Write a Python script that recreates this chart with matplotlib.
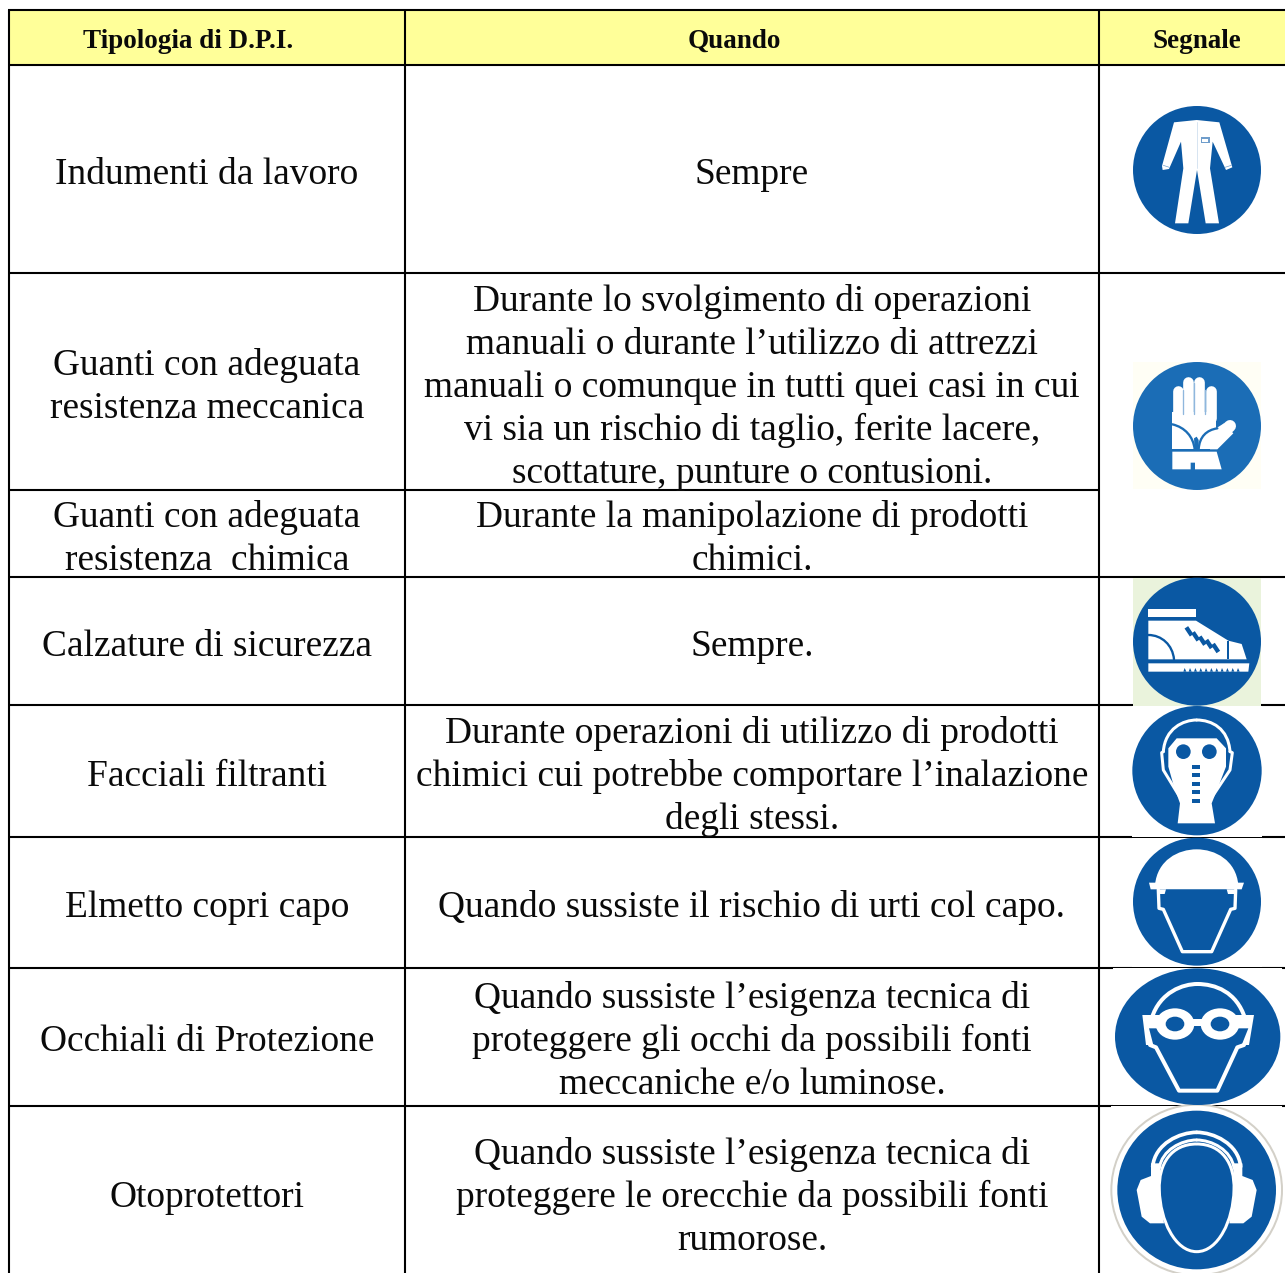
import matplotlib
matplotlib.use("Agg")
import matplotlib.pyplot as plt
from matplotlib.patches import Rectangle, Ellipse, Polygon, PathPatch
from matplotlib.path import Path

# ---------- table content ----------
headers = ["Tipologia di D.P.I.", "Quando", "Segnale"]
header_x = [188.5, 734, 1197]
tipologia = [
    ["Indumenti da lavoro"],
    ["Guanti con adeguata", "resistenza meccanica"],
    ["Guanti con adeguata", "resistenza  chimica"],
    ["Calzature di sicurezza"],
    ["Facciali filtranti"],
    ["Elmetto copri capo"],
    ["Occhiali di Protezione"],
    ["Otoprotettori"],
]
tipologia_y = [171, 362, 514, 643, 773, 904, 1038, 1194]
quando = [
    ["Sempre"],
    ["Durante lo svolgimento di operazioni", "manuali o durante l\u2019utilizzo di attrezzi",
     "manuali o comunque in tutti quei casi in cui", "vi sia un rischio di taglio, ferite lacere,",
     "scottature, punture o contusioni."],
    ["Durante la manipolazione di prodotti", "chimici."],
    ["Sempre."],
    ["Durante operazioni di utilizzo di prodotti", "chimici cui potrebbe comportare l\u2019inalazione",
     "degli stessi."],
    ["Quando sussiste il rischio di urti col capo."],
    ["Quando sussiste l\u2019esigenza tecnica di", "proteggere gli occhi da possibili fonti",
     "meccaniche e/o luminose."],
    ["Quando sussiste l\u2019esigenza tecnica di", "proteggere le orecchie da possibili fonti",
     "rumorose."],
]
quando_y = [171, 298, 514, 643, 730, 904, 995, 1151]

col_x = [9, 405, 1099, 1285]
row_y = [10, 65, 273, 490, 577, 705, 837, 968, 1106, 1273]
full_rows = [10, 65, 273, 577, 705, 837, 968, 1106]

YELLOW = "#FFFF99"
BLUE = "#0A58A3"
BLUE2 = "#1B6DB6"
W = "white"
FONT = "Liberation Serif"
LINE = 43
BASE = 12.8

fig = plt.figure(figsize=(12.85, 12.73), dpi=100)
ax = fig.add_axes([0, 0, 1, 1])
ax.set_xlim(0, 1285)
ax.set_ylim(1273, 0)
ax.axis("off")

# ---------- table ----------
ax.add_patch(Rectangle((col_x[0], row_y[0]), col_x[-1] - col_x[0], row_y[1] - row_y[0], fc=YELLOW, ec="none", zorder=1))
for y in full_rows:
    ax.plot([col_x[0] - 1, col_x[-1]], [y, y], color="black", lw=1.5, solid_capstyle="butt", zorder=2)
ax.plot([col_x[0], col_x[2]], [490, 490], color="black", lw=1.5, solid_capstyle="butt", zorder=2)
for x in col_x[:3]:
    ax.plot([x, x], [row_y[0], row_y[-1]], color="black", lw=1.5, solid_capstyle="butt", zorder=2)

for h, x in zip(headers, header_x):
    ax.text(x, 47.6, h, family=FONT, weight="bold", size=19.5, ha="center", va="baseline", color="#0A0A0A", zorder=5)
for lines, y0 in zip(tipologia, tipologia_y):
    for i, s in enumerate(lines):
        ax.text(207, y0 + BASE + i * LINE, s, family=FONT, size=26.9, ha="center", va="baseline", color="#0A0A0A", zorder=5)
for lines, y0 in zip(quando, quando_y):
    for i, s in enumerate(lines):
        ax.text(752, y0 + BASE + i * LINE, s, family=FONT, size=26.9, ha="center", va="baseline", color="#0A0A0A", zorder=5)


# ---------- icons: shapes are given in 3x crop coordinates ----------
class Z:
    def __init__(self, ox, oy):
        self.ox, self.oy = ox, oy

    def p(self, pts):
        return [(self.ox + a / 3, self.oy + b / 3) for a, b in pts]

    def poly(self, pts, fc=W, z=7):
        ax.add_patch(Polygon(self.p(pts), closed=True, fc=fc, ec="none", zorder=z))

    def rect(self, x0, y0, x1, y1, fc=W, z=7):
        self.poly([(x0, y0), (x1, y0), (x1, y1), (x0, y1)], fc, z)

    def line(self, pts, w=8, c=W, z=7, cap="round"):
        q = self.p(pts)
        ax.plot([a for a, _ in q], [b for _, b in q], color=c, lw=w * 0.24, solid_capstyle=cap,
                solid_joinstyle="round", zorder=z)

    def curve(self, pts, w=8, c=W, z=7):
        q = self.p(pts)
        codes = [Path.MOVETO] + [Path.CURVE4] * (len(q) - 1)
        ax.add_patch(PathPatch(Path(q, codes), fc="none", ec=c, lw=w * 0.24, capstyle="round", zorder=z))

    def filled(self, pts, fc=W, z=7, ec="none", w=0):
        q = self.p(pts)
        codes = [Path.MOVETO] + [Path.CURVE4] * (len(q) - 1)
        ax.add_patch(PathPatch(Path(q, codes), fc=fc, ec=ec, lw=w * 0.24, zorder=z))

    def disc(self, x, y, rx, ry=None, fc=BLUE, ec="none", w=0, z=6):
        ry = rx if ry is None else ry
        cx, cy = self.ox + x / 3, self.oy + y / 3
        ax.add_patch(Ellipse((cx, cy), 2 * rx / 3, 2 * ry / 3, fc=fc, ec=ec, lw=w * 0.24, zorder=z))


# coverall
z = Z(1100, 90)
z.disc(291, 240, 192)
z.poly([(222, 97), (290, 90), (358, 97), (397, 232), (378, 240), (338, 155), (330, 235), (357, 400), (317, 400),
        (291, 240), (265, 400), (225, 400), (250, 235), (243, 155), (207, 237), (188, 240), (186, 228)])
z.rect(303, 142, 329, 160, fc="#6F9DCB", z=8)
z.rect(307, 146, 325, 156, z=9)
z.line([(291, 95), (291, 235)], w=2, c="#C4D7EA", z=8)
z.line([(190, 226), (208, 232)], w=2, c="#6F9DCB", z=8)
z.line([(375, 232), (394, 226)], w=2, c="#6F9DCB", z=8)

# glove
z.rect(100, 816, 482, 1198, fc="#FFFEF5", z=3)
z.disc(291, 1008, 192, fc=BLUE2)
for fx, ftop in zip([233, 265, 298, 332], [904, 876, 876, 904]):
    z.line([(fx, ftop), (fx, 985)], w=32)
z.rect(217, 965, 348, 1078)
z.poly([(217, 1085), (350, 1085), (365, 1138), (285, 1138), (285, 1118), (272, 1118), (272, 1138), (217, 1138)])
z.line([(345, 1050), (390, 1008)], w=36)
z.poly([(340, 1020), (372, 1000), (400, 1030), (352, 1078), (330, 1078)])
z.curve([(217, 1003), (255, 1012), (280, 1040), (284, 1078)], w=7, c=BLUE2, z=8)
z.curve([(296, 1078), (298, 1040), (320, 1020), (352, 1015)], w=7, c=BLUE2, z=8)
z.poly([(282, 1045), (290, 1040), (296, 1050), (296, 1078), (284, 1078)], fc=BLUE2, z=8)
for sx, st in zip([249, 281, 315], [900, 880, 900]):
    z.line([(sx, st), (sx, 972)], w=4, c="#8FB7DD", z=8)

# boot
z = Z(1100, 570)
z.rect(100, 24, 482, 408, fc="#EAF3DC", z=3)
z.disc(291, 215, 192)
z.rect(145, 118, 288, 142)
z.poly([(145, 152), (288, 152), (385, 212), (425, 222), (440, 268), (145, 268)])
z.curve([(145, 195), (185, 195), (218, 225), (222, 268)], w=7, c=BLUE, z=8)
z.line([(385, 212), (385, 268)], w=6, c=BLUE, z=8, cap="butt")
for lx, ly in zip([268, 288, 308, 328, 348], [182, 197, 210, 220, 232]):
    z.line([(lx - 9, ly - 10), (lx + 7, ly + 14)], w=13, c=BLUE, z=8, cap="butt")
z.poly([(145, 280), (448, 280), (445, 305), (145, 305)])
for tx in [250, 266, 282, 298, 314, 330, 346, 362, 378, 394, 410]:
    z.poly([(tx, 305), (tx + 9, 305), (tx + 4, 294)], fc=BLUE, z=8)

# mask
z.rect(97, 408, 485, 800, z=3)
z.disc(291, 602, 194)
z.poly([(205, 535), (230, 505), (350, 505), (378, 535), (378, 590), (355, 650), (335, 700), (345, 760), (233, 760),
        (240, 700), (222, 650), (205, 590)])
z.curve([(190, 545), (195, 475), (250, 450), (290, 450)], w=9)
z.curve([(290, 450), (335, 450), (385, 475), (390, 545)], w=9)
z.line([(190, 545), (185, 548), (190, 600), (240, 682)], w=9)
z.line([(390, 545), (397, 548), (390, 600), (330, 690)], w=9)
z.disc(250, 545, 22, z=8)
z.disc(328, 545, 22, z=8)
for dy in [590, 615, 641, 667, 693]:
    z.rect(276, dy - 6, 301, dy + 6, fc=BLUE, z=8)

# helmet
z.rect(97, 803, 485, 1190, z=3)
z.disc(291, 995, 192)
z.filled([(165, 945), (172, 870), (235, 838), (290, 838), (345, 838), (408, 870), (415, 945), (290, 945), (165, 945), (165, 945)])
z.poly([(147, 938), (432, 938), (425, 958), (152, 958)])
z.poly([(170, 958), (410, 958), (405, 972), (175, 972)])
z.poly([(198, 958), (380, 958), (384, 972), (194, 972)], fc=BLUE, z=8)
z.line([(175, 960), (177, 1015), (190, 1018), (247, 1145), (335, 1145), (392, 1018), (405, 1015), (407, 960)], w=10)

# goggles
z = Z(1100, 960)
z.rect(40, 25, 546, 434, z=3)
z.disc(293, 230, 248, 205)
z.curve([(155, 175), (180, 95), (250, 72), (292, 72)], w=12)
z.curve([(292, 72), (345, 72), (410, 95), (435, 175)], w=12)
z.poly([(127, 165), (180, 165), (180, 205), (147, 205), (160, 255), (138, 255)])
z.poly([(462, 165), (405, 165), (405, 205), (445, 205), (425, 255), (447, 255)])
z.rect(270, 178, 312, 197)
z.disc(225, 192, 58, 47, fc=W, z=7)
z.disc(360, 192, 58, 47, fc=W, z=7)
z.disc(225, 192, 28, 22, z=8)
z.disc(360, 192, 28, 22, z=8)
z.line([(150, 255), (168, 262), (237, 392), (352, 392), (412, 262), (432, 255)], w=12)

# ear protection
z.rect(33, 438, 546, 939, z=3)
z.disc(290, 690, 256, fc=W, ec="#D3D0C8", w=6, z=5)
z.disc(290, 690, 238)
z.curve([(158, 620), (165, 550), (240, 517), (290, 517)], w=11)
z.curve([(290, 517), (340, 517), (415, 550), (422, 620)], w=11)
z.curve([(178, 625), (185, 570), (245, 540), (290, 540)], w=9)
z.curve([(290, 540), (335, 540), (395, 570), (402, 625)], w=9)
pts = [(153, 610), (180, 610), (180, 700), (192, 790), (150, 790), (125, 770), (110, 690), (122, 660), (153, 648)]
z.poly(pts)
z.poly([(580 - a, b) for a, b in pts])
z.filled([(290, 552), (215, 552), (175, 610), (178, 690), (180, 780), (225, 875), (290, 875),
          (355, 875), (400, 780), (402, 690), (405, 610), (365, 552), (290, 552)], fc=BLUE, ec=W, w=9, z=8)

fig.savefig("out.png", dpi=100, facecolor="white")
